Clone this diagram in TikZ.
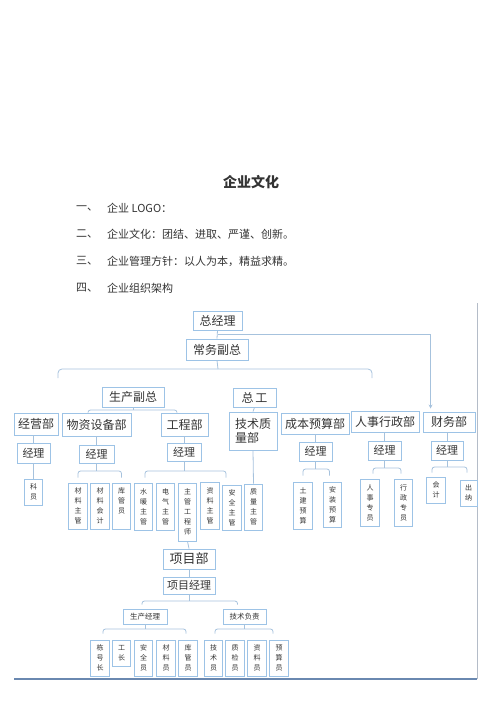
\documentclass[tikz,border=0pt]{standalone}
\usepackage{fontspec}
\setmainfont{Noto Sans CJK SC}
\usetikzlibrary{arrows.meta,calc}
\definecolor{boxc}{HTML}{9DC3E6}
\definecolor{linec}{HTML}{A6C2DD}
\definecolor{txt}{HTML}{333333}
\definecolor{framer}{HTML}{B4BCC8}
\definecolor{frameb}{HTML}{6A88B0}
\tikzset{
  box/.style={draw=boxc, line width=0.9pt, inner sep=0pt, text=txt, align=center},
  dept/.style={box, font=\fontsize{12}{14}\selectfont},
  mgr/.style={box, font=\fontsize{11}{13}\selectfont},
  vbox/.style={box, font=\fontsize{7}{10}\selectfont, minimum width=18.5pt},
  smallbox/.style={box, font=\fontsize{7.5}{9}\selectfont},
  conn/.style={draw=linec, line width=0.8pt},
  bracket/.style={conn, rounded corners=2.5pt},
  plain/.style={text=txt, inner sep=0pt},
}
\begin{document}
\begin{tikzpicture}[x=1pt,y=-1pt]
\useasboundingbox (0,0) rectangle (500,707);

% header texts
\node[plain, font=\fontsize{14}{16}\selectfont\bfseries] (title) at (251,182) {企业文化};
\node[plain, anchor=west, font=\fontsize{11}{13}\selectfont] (n1) at (76,208) {一、};
\node[plain, anchor=west, font=\fontsize{11}{13}\selectfont] (t1) at (107,208) {企业 LOGO：};
\node[plain, anchor=west, font=\fontsize{11}{13}\selectfont] (n2) at (76,234) {二、};
\node[plain, anchor=west, font=\fontsize{11}{13}\selectfont] (t2) at (107,234) {企业文化：团结、进取、严谨、创新。};
\node[plain, anchor=west, font=\fontsize{11}{13}\selectfont] (n3) at (76,261) {三、};
\node[plain, anchor=west, font=\fontsize{11}{13}\selectfont] (t3) at (107,261) {企业管理方针：以人为本，精益求精。};
\node[plain, anchor=west, font=\fontsize{11}{13}\selectfont] (n4) at (76,288) {四、};
\node[plain, anchor=west, font=\fontsize{11}{13}\selectfont] (t4) at (107,288) {企业组织架构};

% frame lines
\coordinate (frTop) at (477,303);
\coordinate (frBR) at (477,679);
\coordinate (frBL) at (14,679);
\draw[draw=framer, line width=0.8pt] (frTop) -- (frBR);
\draw[draw=frameb, line width=1.5pt] (frBL) -- (frBR);

% top levels
\node[dept, minimum width=49pt, minimum height=19pt] (zjl) at (217.5,320.5) {总经理};
\node[dept, minimum width=62pt, minimum height=21pt] (cwfz) at (217,349.5) {常务副总};
\node[dept, minimum width=62pt, minimum height=20pt] (scfz) at (133,397) {生产副总};
\node[dept, minimum width=43pt, minimum height=19pt] (zg) at (254.5,397.5) {总\,工};

% departments
\node[dept, minimum width=44pt, minimum height=22pt] (jyb) at (36,424) {经营部};
\node[dept, minimum width=69pt, minimum height=23pt] (wzsb) at (96.5,424.5) {物资设备部};
\node[dept, minimum width=47pt, minimum height=23pt] (gcb) at (184.5,424.5) {工程部};
\node[dept, minimum width=48pt, minimum height=38pt, align=left] (jszl) at (253,431) {技术质\\量部};
\node[dept, minimum width=68pt, minimum height=21pt] (cbys) at (315,423.5) {成本预算部};
\node[dept, minimum width=68pt, minimum height=21pt] (rsxz) at (385,421.5) {人事行政部};
\node[dept, minimum width=52pt, minimum height=20pt] (cwb) at (449,422) {财务部};

% managers
\node[mgr, minimum width=33pt, minimum height=20pt] (jl1) at (33.5,453) {经理};
\node[mgr, minimum width=35pt, minimum height=18pt] (jl2) at (96.5,454) {经理};
\node[mgr, minimum width=34pt, minimum height=18pt] (jl3) at (184,452) {经理};
\node[mgr, minimum width=33pt, minimum height=19pt] (jl4) at (315.5,451.5) {经理};
\node[mgr, minimum width=33pt, minimum height=19pt] (jl5) at (384.5,450.5) {经理};
\node[mgr, minimum width=32pt, minimum height=19pt] (jl6) at (447,450.5) {经理};

% staff
\node[vbox, minimum height=26pt] (ky) at (33.5,492) {科\\员};
\node[vbox, minimum height=46pt] (clzg) at (78,506) {材\\料\\主\\管};
\node[vbox, minimum height=46pt] (clkj) at (100,506) {材\\料\\会\\计};
\node[vbox, minimum height=46pt] (kgy) at (121.5,506) {库\\管\\员\\\mbox{}};
\node[vbox, minimum height=47pt] (nnzg) at (143.5,506.5) {水\\暖\\主\\管};
\node[vbox, minimum height=47pt] (dqzg) at (165.5,506.5) {电\\气\\主\\管};
\node[vbox, minimum height=58pt] (zggcs) at (187.5,512) {主\\管\\工\\程\\师};
\node[vbox, minimum height=47pt] (zlzg) at (210,505.5) {资\\料\\主\\管};
\node[vbox, minimum height=45pt] (aqzg) at (232,507.5) {安\\全\\主\\管};
\node[vbox, minimum height=46pt] (zlzg2) at (253.5,507) {质\\量\\主\\管};
\node[vbox, minimum height=47pt] (tjys) at (303,505.5) {土\\建\\预\\算};
\node[vbox, minimum height=45pt] (azys) at (332.5,504.5) {安\\装\\预\\算};
\node[vbox, minimum height=47pt] (rszy) at (370,502.5) {人\\事\\专\\员};
\node[vbox, minimum height=47pt] (xzzy) at (403.5,502.5) {行\\政\\专\\员};
\node[vbox, minimum height=26pt] (kj) at (436,490) {会\\计};
\node[vbox, minimum height=26pt, minimum width=17pt] (cn) at (468.5,493) {出\\纳};

% project department
\node[dept, minimum width=52pt, minimum height=20pt, font=\fontsize{13}{15}\selectfont] (xmb) at (189,559) {项目部};
\node[mgr, minimum width=52pt, minimum height=17pt] (xmjl) at (189,585.5) {项目经理};
\node[smallbox, minimum width=44pt, minimum height=15pt] (scjl) at (145,616.5) {生产经理};
\node[smallbox, minimum width=43pt, minimum height=15pt] (jsfz) at (244.5,616.5) {技术负责};
\node[vbox, minimum height=36pt] (dhz) at (100,658) {栋\\号\\长};
\node[vbox, minimum height=26pt] (gz) at (121.5,653) {工\\长};
\node[vbox, minimum height=36pt] (aqy) at (143.5,658) {安\\全\\员};
\node[vbox, minimum height=36pt] (cly) at (166,658) {材\\料\\员};
\node[vbox, minimum height=36pt] (kgy2) at (188,658) {库\\管\\员};
\node[vbox, minimum height=36pt] (jsy) at (213.5,658) {技\\术\\员};
\node[vbox, minimum height=36pt] (zjy) at (235,658) {质\\检\\员};
\node[vbox, minimum height=36pt] (zly) at (257,658) {资\\料\\员};
\node[vbox, minimum height=36pt] (ysy) at (279,658) {预\\算\\员};

% connectors: top
\draw[conn] (zjl.south) -- (cwfz.north);
\coordinate (jn) at (218,334);
\draw[conn, -{Stealth[length=4pt,width=4pt]}, shorten >=3pt] (jn) -| ([xshift=8pt]cwb.north west);
\coordinate (busM) at (218,369);
\coordinate (busL) at (58,378);
\coordinate (busR) at (372,378);
\draw[conn] (cwfz.south) -- (busM);
\draw[bracket, rounded corners=4pt] (busL) |- (busM) -| (busR);

% vice GM production
\coordinate (b0) at (133,410);
\draw[conn] (scfz.south) -- (b0);
\draw[bracket] ([xshift=-8.5pt]wzsb.north) |- (b0) -| ([xshift=-7.5pt]gcb.north);
\draw[conn] (zg.south) -- (jszl.north);

% department -> manager
\draw[conn] (jl1.north) -- (jl1.north |- jyb.south);
\draw[conn] (jl2.north) -- (wzsb.south);
\draw[conn] (jl3.north) -- (jl3.north |- gcb.south);
\draw[conn] (jl4.north) -- (jl4.north |- cbys.south);
\draw[conn] (jl5.north) -- (jl5.north |- rsxz.south);
\draw[conn] (jl6.north) -- (jl6.north |- cwb.south);
\draw[conn] (jszl.south) -- (zlzg2.north);
\draw[conn] (jl1.south) -- (ky.north);

% manager brackets
\coordinate (b2) at (96.5,471);
\draw[conn] (jl2.south) -- (b2);
\draw[bracket] ([yshift=5pt]clzg.north) |- (b2) -| ([yshift=5pt]kgy.north);
\coordinate (b3) at (184,471);
\draw[conn] (jl3.south) -- (b3);
\draw[bracket] ([xshift=1.5pt,yshift=5pt]nnzg.north) |- (b3) -| ([xshift=-6pt,yshift=7pt]aqzg.north);
\coordinate (b4) at (315.5,469);
\draw[conn] (jl4.south) -- (b4);
\draw[bracket] ([yshift=6pt]tjys.north) |- (b4) -| ([xshift=-3pt,yshift=6pt]azys.north);
\coordinate (b5) at (384.5,468);
\draw[conn] (jl5.south) -- (b5);
\draw[bracket] ([xshift=3pt,yshift=5pt]rszy.north) |- (b5) -| ([xshift=-2.5pt,yshift=5pt]xzzy.north);
\coordinate (b6) at (447,467);
\draw[conn] (jl6.south) -- (b6);
\draw[bracket] ([xshift=-4pt,yshift=4pt]kj.north) |- (b6) -| ([xshift=-1.5pt,yshift=7pt]cn.north);

% project
\draw[conn] (zggcs.south) -- (xmb.north);
\draw[conn] (xmb.south) -- (xmjl.north);
\coordinate (b7) at (189,601);
\draw[conn] (xmjl.south) -- (b7);
\draw[bracket] ([xshift=-3pt,yshift=4pt]scjl.north) |- (b7) -| ([xshift=-7pt,yshift=4pt]jsfz.north);
\coordinate (b8) at (145,629);
\draw[conn] (scjl.south) -- (b8);
\draw[bracket] ([xshift=3pt,yshift=6pt]dhz.north) |- (b8) -| ([xshift=-2pt,yshift=6pt]kgy2.north);
\coordinate (b9) at (244.5,629);
\draw[conn] (jsfz.south) -- (b9);
\draw[bracket] ([xshift=1.5pt,yshift=6pt]jsy.north) |- (b9) -| ([xshift=-6pt,yshift=6pt]ysy.north);
\end{tikzpicture}
\end{document}
